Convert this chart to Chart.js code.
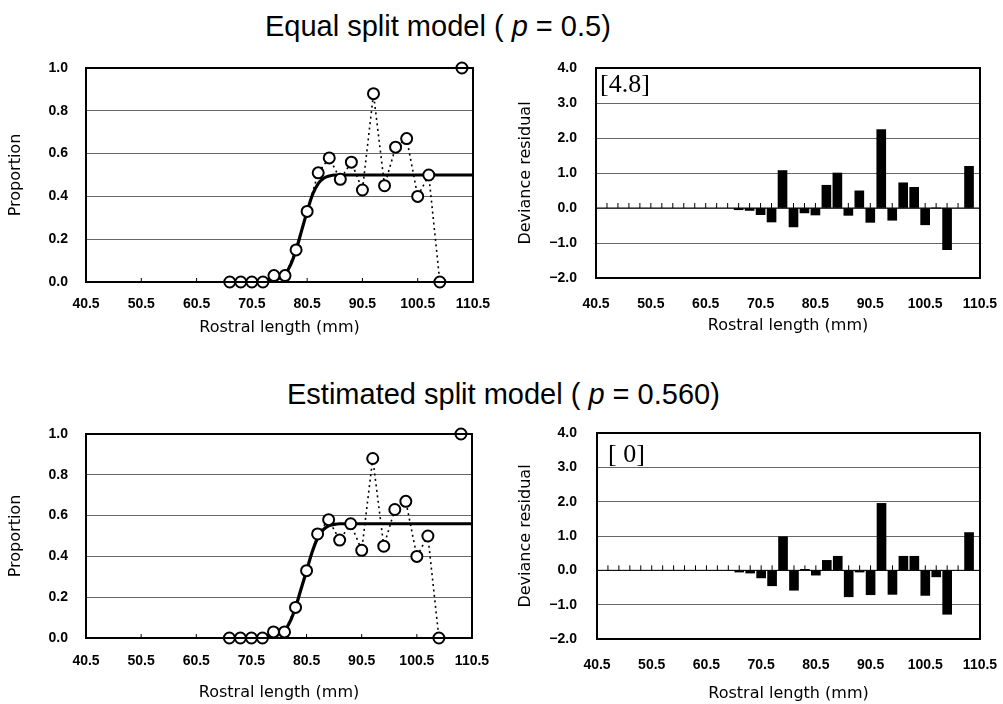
<!DOCTYPE html>
<html>
<head>
<meta charset="utf-8">
<script src="https://cdn.jsdelivr.net/npm/chart.js@4.4.1/dist/chart.umd.min.js"></script>
<style>
  body { margin: 0; background: #fff; width: 1003px; height: 704px; position: relative; overflow: hidden; }
  .box { position: absolute; }
  .title { position: absolute; font-family: "Liberation Sans", Arial, sans-serif; font-size: 29px; line-height: 29px; color: #000; white-space: nowrap; }
</style>
</head>
<body>
<div class="title" style="left:265px; top:12px;">Equal split model ( <i>p</i> = 0.5)</div>
<div class="title" style="left:287px; top:380px;">Estimated split model ( <i>p</i> = 0.560)</div>

<div class="box" style="left:0; top:30px; width:490px; height:315px;"><canvas id="propEqual"></canvas></div>
<div class="box" style="left:500px; top:30px; width:503px; height:315px;"><canvas id="residEqual"></canvas></div>
<div class="box" style="left:0; top:400px; width:490px; height:304px;"><canvas id="propEstimated"></canvas></div>
<div class="box" style="left:500px; top:400px; width:503px; height:304px;"><canvas id="residEstimated"></canvas></div>

<script>
// axis ticks
const xTickLabels = [40.5, 50.5, 60.5, 70.5, 80.5, 90.5, 100.5, 110.5];
const propTicks = [0, 0.2, 0.4, 0.6, 0.8, 1.0];
const residTicks = [-2, -1, 0, 1, 2, 3, 4];

// rostral length classes (mm) and observed proportions
const lengths = [66.5, 68.5, 70.5, 72.5, 74.5, 76.5, 78.5, 80.5, 82.5, 84.5, 86.5,
                 88.5, 90.5, 92.5, 94.5, 96.5, 98.5, 100.5, 102.5, 104.5, 106.5, 108.5];
const observed = [0, 0, 0, 0, 0.03, 0.03, 0.15, 0.33, 0.51, 0.58, 0.48,
                  0.56, 0.43, 0.88, 0.45, 0.63, 0.67, 0.40, 0.50, 0, null, 1.0];

// deviance residuals
const residEqual = [-0.05, -0.07, -0.19, -0.40, 1.07, -0.54, -0.14, -0.20, 0.65, 1.00, -0.21,
                    0.49, -0.41, 2.24, -0.35, 0.72, 0.59, -0.48, 0, -1.19, null, 1.19];
const residEstimated = [-0.05, -0.08, -0.22, -0.45, 0.98, -0.58, 0.03, -0.14, 0.29, 0.41, -0.77,
                        -0.05, -0.71, 1.95, -0.70, 0.41, 0.41, -0.73, -0.19, -1.28, null, 1.10];

// fitted curves
const fitLengths = [72.5, 73.5, 74.5, 75.5, 76.5, 77.5, 78.5, 79.5, 80.5, 81.5, 82.5, 83.5, 84.5, 85.5, 86.5, 110.5];
const fitEqual = [0, 0.003, 0.008, 0.018, 0.035, 0.08, 0.15, 0.24, 0.33, 0.41, 0.46, 0.485, 0.495, 0.5, 0.5, 0.5];
const fitEstimated = [0, 0.003, 0.008, 0.018, 0.035, 0.08, 0.15, 0.24, 0.33, 0.42, 0.49, 0.53, 0.55, 0.557, 0.56, 0.56];

const tickFont = { family: '"Liberation Sans", Arial, sans-serif', size: 14, weight: 'bold' };
const axisTitleFont = { family: '"DejaVu Sans", sans-serif', size: 16 };

const fmt = v => (v < 0 ? '\u2212' + Math.abs(v).toFixed(1) : v.toFixed(1));

// black frame, small tick marks, zero line and the [..] note
const framePlugin = {
  id: 'frame',
  beforeDatasetsDraw(chart, args, opts) {
    const { ctx, chartArea: a, scales: { x, y } } = chart;
    ctx.save();
    ctx.strokeStyle = '#000';
    ctx.lineWidth = 1;
    ctx.beginPath();
    if (opts.zeroLine) {
      const y0 = y.getPixelForValue(0);
      ctx.moveTo(a.left, y0);
      ctx.lineTo(a.right, y0);
      for (let v = x.min + 2; v < x.max; v += 2) {
        const px = x.getPixelForValue(v);
        ctx.moveTo(px, y0);
        ctx.lineTo(px, y0 - 5);
      }
    } else {
      xTickLabels.forEach(v => {
        const px = x.getPixelForValue(v);
        ctx.moveTo(px, a.bottom);
        ctx.lineTo(px, a.bottom - 4);
      });
    }
    ctx.stroke();
    ctx.restore();
  },
  afterDraw(chart, args, opts) {
    const { ctx, chartArea: a } = chart;
    ctx.save();
    ctx.strokeStyle = '#000';
    ctx.lineWidth = 2;
    ctx.strokeRect(a.left, a.top, a.right - a.left, a.bottom - a.top);
    if (opts.note) {
      ctx.fillStyle = '#000';
      ctx.font = '26px "Liberation Serif", serif';
      ctx.textBaseline = 'middle';
      ctx.fillText(opts.note, a.left + opts.noteX, a.top + opts.noteY);
    }
    ctx.restore();
  }
};

function makeOptions(c) {
  return {
    responsive: true,
    maintainAspectRatio: false,
    animation: false,
    layout: { padding: { top: c.top, right: c.right, left: 0, bottom: 0 } },
    plugins: {
      legend: { display: false },
      tooltip: { enabled: false },
      frame: c.frame
    },
    scales: {
      x: {
        type: 'linear',
        offset: false,
        min: 40.5,
        max: 110.5,
        afterBuildTicks: s => { s.ticks = xTickLabels.map(v => ({ value: v })); },
        afterFit: s => { s.height = c.xHeight; s.paddingLeft = 0; s.paddingRight = 0; },
        grid: { display: false, drawTicks: false, offset: false },
        border: { display: false },
        ticks: { color: '#000', font: tickFont, padding: c.xPad, maxRotation: 0, autoSkip: false, callback: v => v.toFixed(1) },
        title: { display: true, text: 'Rostral length (mm)', color: '#000', font: axisTitleFont, padding: { top: 0, bottom: c.xTitlePad } }
      },
      y: {
        min: c.yTicks[0],
        max: c.yTicks[c.yTicks.length - 1],
        afterBuildTicks: s => { s.ticks = c.yTicks.map(v => ({ value: v })); },
        afterFit: s => { s.width = c.yWidth; s.paddingTop = 0; s.paddingBottom = 0; },
        grid: { color: '#666', lineWidth: 1, drawTicks: false },
        border: { display: false },
        ticks: { color: '#000', font: tickFont, padding: c.yPad, callback: fmt },
        title: { display: true, text: c.yTitle, color: '#000', font: axisTitleFont, padding: { top: c.yTitlePad, bottom: 0 } }
      }
    }
  };
}

function propDatasets(fit) {
  return [{
    data: lengths.map((x, i) => ({ x, y: observed[i] })),
    borderColor: '#000',
    borderWidth: 1.6,
    borderDash: [2, 3.5],
    pointRadius: 5.5,
    pointBackgroundColor: '#fff',
    pointBorderColor: '#000',
    pointBorderWidth: 2,
    spanGaps: false,
    clip: false
  }, {
    data: fitLengths.map((x, i) => ({ x, y: fit[i] })),
    borderColor: '#000',
    borderWidth: 3.2,
    pointRadius: 0,
    cubicInterpolationMode: 'monotone',
    clip: false
  }];
}

function residDatasets(resid) {
  return [{
    data: lengths.map((x, i) => ({ x, y: resid[i] })),
    backgroundColor: '#000',
    barThickness: 9
  }];
}

new Chart(document.getElementById('propEqual'), {
  type: 'line',
  data: { datasets: propDatasets(fitEqual) },
  options: makeOptions({ top: 38, right: 17, xHeight: 63, yWidth: 86, xPad: 14, yPad: 18, xTitlePad: 7.4, yTitlePad: 6.4,
    yTicks: propTicks, yTitle: 'Proportion', frame: { zeroLine: false } }),
  plugins: [framePlugin]
});

new Chart(document.getElementById('residEqual'), {
  type: 'bar',
  data: { datasets: residDatasets(residEqual) },
  options: makeOptions({ top: 38, right: 23, xHeight: 67, yWidth: 96, xPad: 18, yPad: 19, xTitlePad: 10, yTitlePad: 16.4,
    yTicks: residTicks, yTitle: 'Deviance residual', frame: { zeroLine: true, note: '[4.8]', noteX: 4, noteY: 17 } }),
  plugins: [framePlugin]
});

new Chart(document.getElementById('propEstimated'), {
  type: 'line',
  data: { datasets: propDatasets(fitEstimated) },
  options: makeOptions({ top: 34, right: 18, xHeight: 66, yWidth: 86, xPad: 15, yPad: 18, xTitlePad: 2, yTitlePad: 6.4,
    yTicks: propTicks, yTitle: 'Proportion', frame: { zeroLine: false } }),
  plugins: [framePlugin]
});

new Chart(document.getElementById('residEstimated'), {
  type: 'bar',
  data: { datasets: residDatasets(residEstimated) },
  options: makeOptions({ top: 33, right: 23, xHeight: 65, yWidth: 97, xPad: 17.5, yPad: 20, xTitlePad: 1, yTitlePad: 16.4,
    yTicks: residTicks, yTitle: 'Deviance residual', frame: { zeroLine: true, note: '[ 0]', noteX: 11, noteY: 22 } }),
  plugins: [framePlugin]
});
</script>
</body>
</html>
